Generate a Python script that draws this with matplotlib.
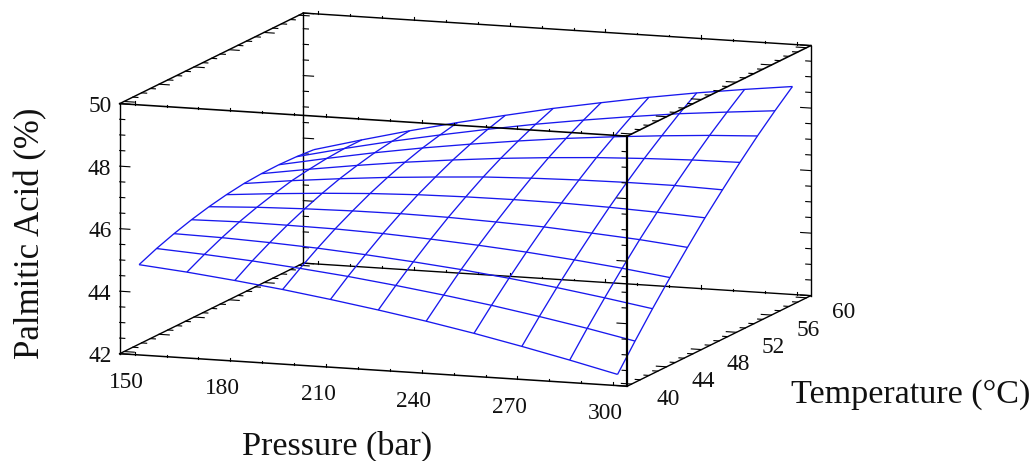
#!/usr/bin/env python3
"""Response surface of palmitic acid against pressure and temperature."""

import matplotlib
matplotlib.use("Agg")
import matplotlib.pyplot as plt
from mpl_toolkits.mplot3d import proj3d
import numpy as np

PRESSURE = [150, 165, 180, 195, 210, 225, 240, 255, 270, 285, 300]
TEMPERATURE = [40, 42, 44, 46, 48, 50, 52, 54, 56, 58, 60]
# one row per temperature, one column per pressure
PALMITIC = [
    [44.81, 44.67, 44.50, 44.31, 44.09, 43.85, 43.59, 43.30, 42.98, 42.64, 42.28],
    [45.05, 44.96, 44.85, 44.71, 44.55, 44.36, 44.15, 43.92, 43.66, 43.38, 43.07],
    [45.25, 45.22, 45.16, 45.08, 44.97, 44.84, 44.69, 44.51, 44.31, 44.08, 43.83],
    [45.42, 45.45, 45.44, 45.42, 45.37, 45.29, 45.19, 45.07, 44.92, 44.75, 44.55],
    [45.56, 45.64, 45.69, 45.72, 45.73, 45.71, 45.66, 45.60, 45.50, 45.39, 45.24],
    [45.67, 45.80, 45.91, 46.00, 46.06, 46.09, 46.10, 46.09, 46.05, 45.99, 45.91],
    [45.75, 45.94, 46.10, 46.24, 46.35, 46.45, 46.51, 46.55, 46.57, 46.57, 46.53],
    [45.79, 46.03, 46.25, 46.45, 46.62, 46.77, 46.89, 46.99, 47.06, 47.11, 47.13],
    [45.80, 46.10, 46.38, 46.63, 46.85, 47.05, 47.23, 47.38, 47.51, 47.62, 47.70],
    [45.78, 46.14, 46.47, 46.77, 47.05, 47.31, 47.54, 47.75, 47.94, 48.09, 48.23],
    [45.73, 46.14, 46.53, 46.89, 47.22, 47.54, 47.82, 48.09, 48.33, 48.54, 48.73],
]
P_TICKS = [150, 180, 210, 240, 270, 300]
T_TICKS = [40, 44, 48, 52, 56, 60]
Z_TICKS = [42, 44, 46, 48, 50]

P0, P1 = 145.3, 304.4
T0, T1 = 39.5, 60.5
Z0, Z1 = 42, 50
W, H = 1034, 461
BLUE = "#1818ee"
INK = "#111111"
TICK_FS = 16.8
LABEL_FS = 24.6

plt.rcParams["font.family"] = ["Liberation Serif", "DejaVu Serif"]


def seg(ax, xs, ys, zs, lw=1.0, zorder=4):
    ax.plot(xs, ys, zs, color="black", lw=lw, zorder=zorder, solid_capstyle="projecting")


def tick_label(ax, x, y, z, s, dx, dy):
    # flat text at a projected axis point, shifted by pixels
    x2, y2, _ = proj3d.proj_transform(x, y, z, ax.get_proj())
    ax.annotate(s, xy=(x2, y2), xycoords="data", xytext=(dx, dy), textcoords="offset pixels",
                ha="center", va="center", fontsize=TICK_FS, color=INK)


def main():
    fig = plt.figure(figsize=(W / 100, H / 100), dpi=100)
    S = 782
    ax = fig.add_axes([63.7 / W, -140.2 / H, S / W, S / H], projection="3d",
                      proj_type="ortho", computed_zorder=False)
    ax.set_axis_off()
    ax.patch.set_alpha(0)
    ax.view_init(elev=10.24, azim=-70.18)
    ax.set_box_aspect((539.2, 541.3, 254))
    ax.set_xlim(P0, P1); ax.set_ylim(T0, T1); ax.set_zlim(Z0, Z1)

    # floor and back verticals sit under the surface, the rest over it
    seg(ax, [P0, P1], [T0, T0], [Z0, Z0], lw=1.1, zorder=1)
    seg(ax, [P0, P1], [T1, T1], [Z0, Z0], zorder=1)
    seg(ax, [P0, P0], [T0, T1], [Z0, Z0], zorder=1)
    seg(ax, [P1, P1], [T0, T1], [Z0, Z0], zorder=1)
    seg(ax, [P0, P0], [T1, T1], [Z0, Z1], zorder=1)
    seg(ax, [P1, P1], [T1, T1], [Z0, Z1], zorder=1)
    seg(ax, [P0, P0], [T0, T0], [Z0, Z1], zorder=1)

    pp, tt = np.meshgrid(PRESSURE, TEMPERATURE)
    ax.plot_wireframe(pp, tt, np.array(PALMITIC), rstride=1, cstride=1,
                      color=BLUE, lw=0.95, zorder=2)

    seg(ax, [P0, P1], [T0, T0], [Z1, Z1], lw=1.15)
    seg(ax, [P0, P1], [T1, T1], [Z1, Z1], lw=1.05)
    seg(ax, [P0, P0], [T0, T1], [Z1, Z1], lw=1.05)
    seg(ax, [P1, P1], [T0, T1], [Z1, Z1], lw=1.15)
    seg(ax, [P1, P1], [T0, T0], [Z0, Z1], lw=1.6)

    # pressure ticks: short bumps on the four pressure edges
    for p in np.arange(150, 301, 10):
        dz = 0.1 if p % 30 == 0 else 0.06
        for t, z in [(T0, Z0), (T1, Z0), (T0, Z1), (T1, Z1)]:
            seg(ax, [p, p], [t, t], [z, z + dz], lw=0.8, zorder=1 if z == Z0 else 4)

    # temperature ticks point along the pressure direction
    for t in np.arange(40, 61, 1):
        dp = 3.2 if t % 4 == 0 else 1.6
        for z in (Z0, Z1):
            seg(ax, [P0, P0 + dp], [t, t], [z, z], lw=0.8, zorder=1 if z == Z0 else 4)
            seg(ax, [P1, P1 - dp], [t, t], [z, z], lw=0.8, zorder=1 if z == Z0 else 4)

    # z ticks on all four verticals
    for z in np.arange(42, 50.01, 0.5):
        dp = 3.2 if z % 2 == 0 else 1.6
        for t in (T0, T1):
            seg(ax, [P0, P0 + dp], [t, t], [z, z], lw=0.8, zorder=1)
            seg(ax, [P1, P1 - dp], [t, t], [z, z], lw=0.8, zorder=1 if t == T1 else 4)

    for p in P_TICKS:
        tick_label(ax, p, T0, Z0, str(p), -8, -28)
    for t in T_TICKS:
        tick_label(ax, P1, t, Z0, str(t), 37, -15)
    for z in Z_TICKS:
        tick_label(ax, P0, T0, z, str(z), -20, -3)

    fig.text(337 / W, 1 - 455 / H, "Pressure (bar)", ha="center", va="baseline",
             fontsize=LABEL_FS, color=INK)
    fig.text(910.5 / W, 1 - 403 / H, "Temperature (°C)", ha="center", va="baseline",
             fontsize=LABEL_FS, color=INK)
    fig.text(39 / W, 1 - 233 / H, "Palmitic Acid (%)", ha="center", va="baseline", rotation=90,
             rotation_mode="anchor", fontsize=25, color=INK)

    fig.savefig("out.png", dpi=100)
    plt.close(fig)


if __name__ == "__main__":
    main()
